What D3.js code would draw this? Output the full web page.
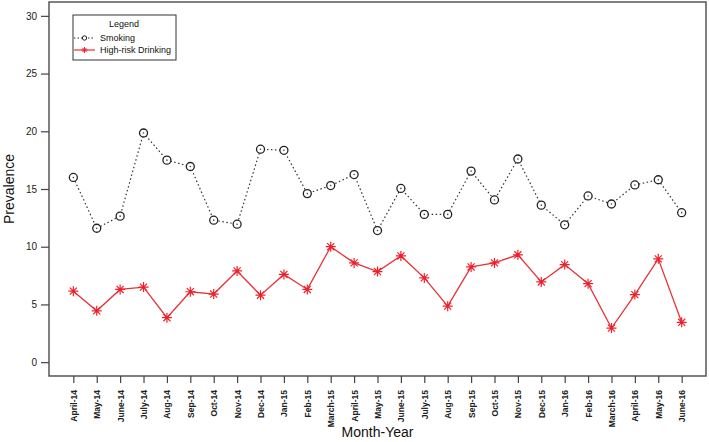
<!DOCTYPE html>
<html>
<head>
<meta charset="utf-8">
<script src="https://d3js.org/d3.v7.min.js"></script>
<style>
  body { margin: 0; background: #fff; }
  svg text { font-family: "Liberation Sans", Arial, sans-serif; }
</style>
</head>
<body>
<svg id="chart" width="709" height="442"></svg>
<script>
// data
const months = ["April-14","May-14","June-14","July-14","Aug-14","Sep-14","Oct-14","Nov-14","Dec-14",
  "Jan-15","Feb-15","March-15","April-15","May-15","June-15","July-15","Aug-15","Sep-15","Oct-15",
  "Nov-15","Dec-15","Jan-16","Feb-16","March-16","April-16","May-16","June-16"];
const smoking = [16.0,11.6,12.65,19.85,17.5,16.95,12.3,11.95,18.45,18.35,14.6,15.3,16.25,11.4,
  15.05,12.8,12.8,16.55,14.05,17.6,13.6,11.9,14.4,13.7,15.35,15.8,12.95];
const drinking = [6.15,4.45,6.3,6.5,3.85,6.1,5.9,7.9,5.8,7.6,6.3,10.0,8.6,7.85,
  9.2,7.3,4.85,8.25,8.6,9.3,6.95,8.45,6.8,2.95,5.85,8.95,3.45];
const yTicks = [0,5,10,15,20,25,30];

const svg = d3.select("#chart");
// plot box (R style, 4% padding on both axes)
const box = {left: 49, right: 706, top: 2, bottom: 376};

const x = d3.scaleLinear()
  .domain([-0.04*26, 26*1.04])
  .range([box.left, box.right]);
const y = d3.scaleLinear()
  .domain([-0.04*30, 30*1.04])
  .range([box.bottom, box.top]);

// box
svg.append("rect")
  .attr("x", box.left).attr("y", box.top)
  .attr("width", box.right - box.left).attr("height", box.bottom - box.top)
  .attr("fill", "none").attr("stroke", "#555").attr("stroke-width", 1.5);

// y axis
const yAxis = svg.append("g")
  .attr("transform", "translate(" + (box.left) + ",0)")
  .call(d3.axisLeft(y).tickValues(yTicks).tickSize(8).tickPadding(4));
yAxis.select(".domain").remove();
yAxis.selectAll("line").attr("stroke", "#444").attr("stroke-width", 1.2);
yAxis.selectAll("text").attr("font-size", 10).attr("fill", "#222")
  .attr("font-family", "Liberation Sans, Arial, sans-serif");

// x axis
const xAxis = svg.append("g")
  .attr("transform", "translate(0," + box.bottom + ")")
  .call(d3.axisBottom(x).tickValues(d3.range(months.length)).tickFormat(i => months[i]).tickSize(7));
xAxis.select(".domain").remove();
xAxis.selectAll("line").attr("stroke", "#444").attr("stroke-width", 1.2);
xAxis.selectAll("text")
  .attr("font-size", 8.5).attr("font-weight", "bold").attr("fill", "#222")
  .attr("font-family", "Liberation Sans, Arial, sans-serif")
  .attr("text-anchor", "end")
  .attr("dy", "0.35em")
  .attr("transform", "translate(0,14) rotate(-90)")
  .attr("x", 0).attr("y", 0);

// axis titles
svg.append("text")
  .attr("transform", "translate(14," + ((box.top + box.bottom) / 2) + ") rotate(-90)")
  .attr("text-anchor", "middle").attr("font-size", 14).attr("fill", "#111")
  .text("Prevalence");
svg.append("text")
  .attr("x", (box.left + box.right) / 2).attr("y", 437)
  .attr("text-anchor", "middle").attr("font-size", 14).attr("fill", "#111")
  .text("Month-Year");

// smoking line
const line = d3.line().x((d, i) => x(i)).y(d => y(d));
svg.append("path").datum(smoking)
  .attr("d", line).attr("fill", "none")
  .attr("stroke", "#333").attr("stroke-width", 1.2)
  .attr("stroke-dasharray", "1.5,2.5");

// drinking line
svg.append("path").datum(drinking)
  .attr("d", line).attr("fill", "none")
  .attr("stroke", "#e8323a").attr("stroke-width", 1.3);

// smoking markers: open circles with centre dot
const sm = svg.append("g").selectAll("g").data(smoking).join("g")
  .attr("transform", (d, i) => "translate(" + x(i) + "," + y(d) + ")");
sm.append("circle").attr("r", 4).attr("fill", "#fff").attr("stroke", "#222").attr("stroke-width", 1.3);
sm.append("circle").attr("r", 0.8).attr("fill", "#444");

// asterisk marker
function star(g, s, col, w) {
  const d = s * 0.707;
  g.append("path")
    .attr("d", "M" + (-s) + ",0L" + s + ",0M0," + (-s) + "L0," + s +
               "M" + (-d) + "," + (-d) + "L" + d + "," + d + "M" + (-d) + "," + d + "L" + d + "," + (-d))
    .attr("stroke", col).attr("stroke-width", w).attr("fill", "none");
}
svg.append("g").selectAll("g").data(drinking).join("g")
  .attr("transform", (d, i) => "translate(" + x(i) + "," + y(d) + ")")
  .each(function() { star(d3.select(this), 5, "#f0202a", 1.2); });

// legend
const lg = svg.append("g");
lg.append("rect").attr("x", 73).attr("y", 15).attr("width", 103).attr("height", 45)
  .attr("fill", "#fff").attr("stroke", "#333").attr("stroke-width", 1);
lg.append("text").attr("x", 124).attr("y", 27).attr("text-anchor", "middle")
  .attr("font-size", 9).attr("fill", "#111").text("Legend");
lg.append("line").attr("x1", 74).attr("x2", 95).attr("y1", 38).attr("y2", 38)
  .attr("stroke", "#333").attr("stroke-width", 1).attr("stroke-dasharray", "1.5,2");
lg.append("circle").attr("cx", 84.5).attr("cy", 38).attr("r", 2.2)
  .attr("fill", "#fff").attr("stroke", "#222").attr("stroke-width", 1);
lg.append("text").attr("x", 100).attr("y", 41).attr("font-size", 9).attr("fill", "#111").text("Smoking");
lg.append("line").attr("x1", 74).attr("x2", 95).attr("y1", 50).attr("y2", 50)
  .attr("stroke", "#e8323a").attr("stroke-width", 1.2);
star(lg.append("g").attr("transform", "translate(84.5,50)"), 3, "#f0202a", 1);
lg.append("text").attr("x", 100).attr("y", 53).attr("font-size", 9).attr("fill", "#111").text("High-risk Drinking");
</script>
</body>
</html>
